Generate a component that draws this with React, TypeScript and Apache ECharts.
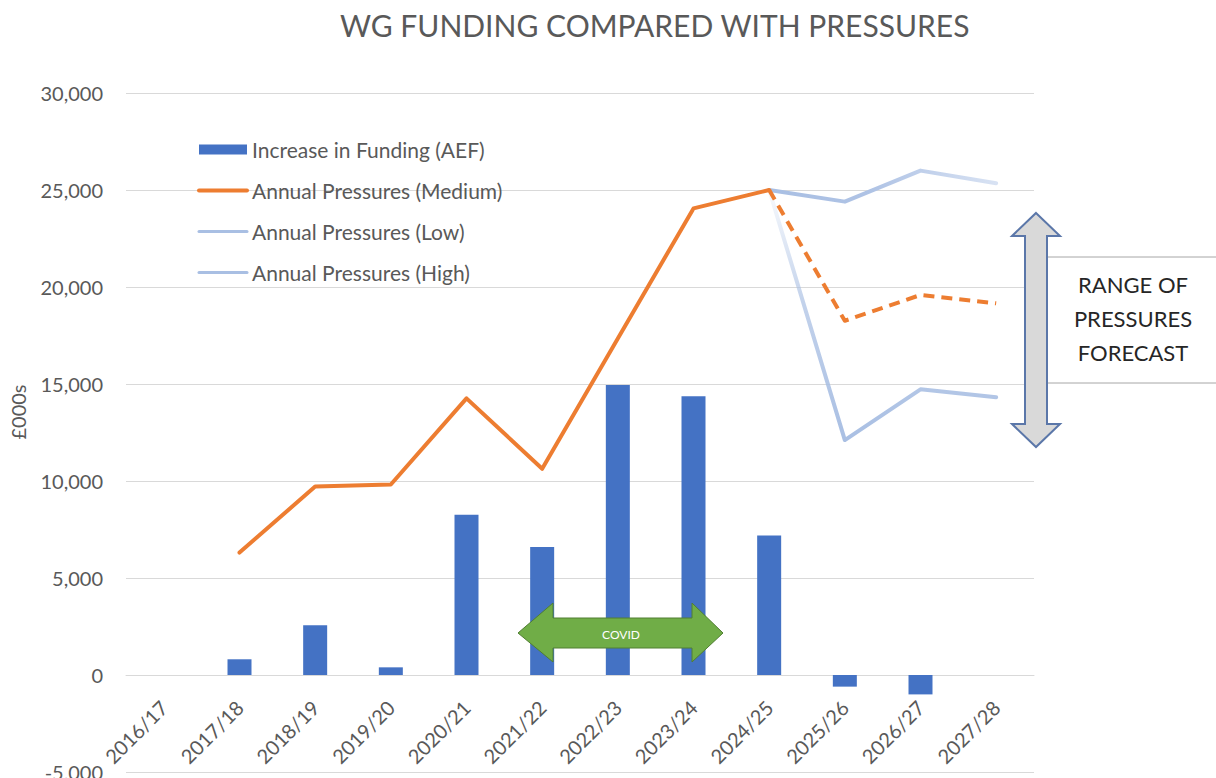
import React, { useEffect, useRef } from "react";
import * as echarts from "echarts";

const categories = [
  "2016/17", "2017/18", "2018/19", "2019/20", "2020/21", "2021/22",
  "2022/23", "2023/24", "2024/25", "2025/26", "2026/27", "2027/28",
];
const fundingIncrease = [null, 810, 2560, 395, 8260, 6600, 14950, 14370, 7190, -600, -1000, null];
const pressuresMedium = [null, 6310, 9715, 9820, 14260, 10630, 17350, 24050, 25000, null, null, null];
const pressuresMediumForecast = [null, null, null, null, null, null, null, null, 25000, 18260, 19590, 19160];
const pressuresLow = [null, null, null, null, null, null, null, null, 25000, 12110, 14725, 14315];
const pressuresHigh = [null, null, null, null, null, null, null, null, 25000, 24400, 26000, 25350];
const yTicks = { min: -5000, max: 30000, interval: 5000 };

const FONT = "Lato, 'Open Sans', sans-serif";
const GREY = "#595959";
const BLUE = "#4472C4";
const ORANGE = "#ED7D31";
const LIGHT = "#A9BFE3";

const W = 1216;
const H = 778;
const GRID = { left: 126, right: 182, top: 93, bottom: 6 };

export default function App() {
  const ref = useRef<HTMLDivElement>(null);
  useEffect(() => {
    if (!ref.current) return;
    const chart = echarts.init(ref.current, null, { renderer: "svg" });
    const hiddenSymbol = { opacity: 0, color: "rgba(0,0,0,0)", borderWidth: 0 };
    const plotH = H - GRID.top - GRID.bottom;
    const zeroFromBottom = (plotH * (0 - yTicks.min)) / (yTicks.max - yTicks.min);
    chart.setOption({
      animation: false,
      backgroundColor: "#ffffff",
      textStyle: { fontFamily: FONT },
      title: {
        text: "WG FUNDING COMPARED WITH PRESSURES",
        left: 340,
        top: 10,
        padding: 0,
        textStyle: { fontFamily: FONT, fontSize: 30, fontWeight: "normal", color: GREY },
      },
      legend: {
        orient: "vertical",
        left: 197,
        top: 139,
        padding: 0,
        itemWidth: 48,
        itemHeight: 10,
        itemGap: 20,
        textStyle: { fontFamily: FONT, fontSize: 21, color: GREY },
        data: [
          { name: "Increase in Funding (AEF)", icon: "rect" },
          { name: "Annual Pressures (Medium)", lineStyle: { color: ORANGE, width: 4 }, itemStyle: hiddenSymbol },
          { name: "Annual Pressures (Low)", lineStyle: { color: LIGHT, width: 3 }, itemStyle: hiddenSymbol },
          { name: "Annual Pressures (High)", lineStyle: { color: LIGHT, width: 3 }, itemStyle: hiddenSymbol },
        ],
      },
      grid: { ...GRID, containLabel: false, outerBoundsMode: "none" },
      xAxis: {
        type: "category",
        data: categories,
        offset: -zeroFromBottom,
        axisLine: { show: true, onZero: false, lineStyle: { color: "#D9D9D9", width: 1 } },
        axisTick: { show: false },
        axisLabel: {
          rotate: 45,
          margin: 29,
          interval: 0,
          fontFamily: FONT,
          fontSize: 20,
          color: GREY,
        },
      },
      yAxis: {
        type: "value",
        min: yTicks.min,
        max: yTicks.max,
        interval: yTicks.interval,
        axisLine: { show: false },
        axisTick: { show: false },
        splitLine: { lineStyle: { color: "#D9D9D9", width: 1 } },
        axisLabel: {
          margin: 23,
          fontFamily: FONT,
          fontSize: 20,
          color: GREY,
          formatter: (v: number) => v.toLocaleString("en-GB"),
        },
      },
      series: [
        {
          name: "Increase in Funding (AEF)",
          type: "bar",
          data: fundingIncrease,
          barWidth: 24,
          itemStyle: { color: BLUE },
        },
        {
          name: "Annual Pressures (High)",
          type: "line",
          data: pressuresHigh,
          symbol: "none",
          z: 3,
          lineStyle: {
            width: 4,
            cap: "round",
            join: "round",
            color: new echarts.graphic.LinearGradient(0, 0, 1, 0, [
              { offset: 0, color: "#A9BFE3" },
              { offset: 0.45, color: "#AFC3E5" },
              { offset: 1, color: "#D8E2F3" },
            ]),
          },
          itemStyle: { color: LIGHT },
        },
        {
          name: "Annual Pressures (Low)",
          type: "line",
          data: pressuresLow,
          symbol: "none",
          z: 3,
          lineStyle: {
            width: 4,
            cap: "round",
            join: "round",
            color: new echarts.graphic.LinearGradient(0, 0, 0, 1, [
              { offset: 0, color: "rgba(169,191,227,0.08)" },
              { offset: 0.45, color: "rgba(169,191,227,0.7)" },
              { offset: 1, color: "#A9BFE3" },
            ]),
          },
          itemStyle: { color: LIGHT },
        },
        {
          name: "Annual Pressures (Medium)",
          type: "line",
          data: pressuresMedium,
          symbol: "none",
          z: 4,
          lineStyle: { width: 4, color: ORANGE, cap: "round", join: "round" },
          itemStyle: { color: ORANGE },
        },
        {
          name: "Annual Pressures (Medium) forecast",
          type: "line",
          data: pressuresMediumForecast,
          symbol: "none",
          z: 4,
          lineStyle: { width: 4, color: ORANGE, type: [11, 7], cap: "butt", join: "round" },
          itemStyle: { color: ORANGE },
        },
      ],
      graphic: [
        {
          type: "text",
          x: 18,
          y: 412,
          rotation: Math.PI / 2,
          style: {
            text: "£000s",
            fill: GREY,
            font: `20px ${FONT}`,
            align: "center",
            verticalAlign: "middle",
          },
        },
        {
          type: "polygon",
          z: 10,
          shape: {
            points: [
              [518, 633], [553, 603], [553, 618], [692, 618], [692, 603],
              [723, 633], [692, 662], [692, 648], [553, 648], [553, 662],
            ],
          },
          style: { fill: "#70AD47", stroke: "#507E32", lineWidth: 1 },
        },
        {
          type: "text",
          z: 11,
          x: 621,
          y: 634,
          style: {
            text: "COVID",
            fill: "#ffffff",
            font: `12px ${FONT}`,
            align: "center",
            verticalAlign: "middle",
          },
        },
        {
          type: "rect",
          z: 10,
          shape: { x: 1040, y: 257, width: 190, height: 126 },
          style: { fill: "#ffffff", stroke: "#A6A6A6", lineWidth: 1 },
        },
        {
          type: "text",
          z: 11,
          x: 1133,
          y: 318,
          style: {
            text: "RANGE OF\nPRESSURES\nFORECAST",
            fill: "#262626",
            font: `22px ${FONT}`,
            lineHeight: 34,
            align: "center",
            verticalAlign: "middle",
          },
        },
        {
          type: "polygon",
          z: 12,
          shape: {
            points: [
              [1036, 213], [1060, 236], [1047, 236], [1047, 424], [1060, 424],
              [1036, 447], [1012, 424], [1025, 424], [1025, 236], [1012, 236],
            ],
          },
          style: { fill: "#D9D9D9", stroke: "#5B77A9", lineWidth: 2 },
        },
      ],
    });
    return () => chart.dispose();
  }, []);
  return (
    <div
      ref={ref}
      style={{ position: "absolute", left: 0, top: 0, width: W, height: H }}
    />
  );
}
